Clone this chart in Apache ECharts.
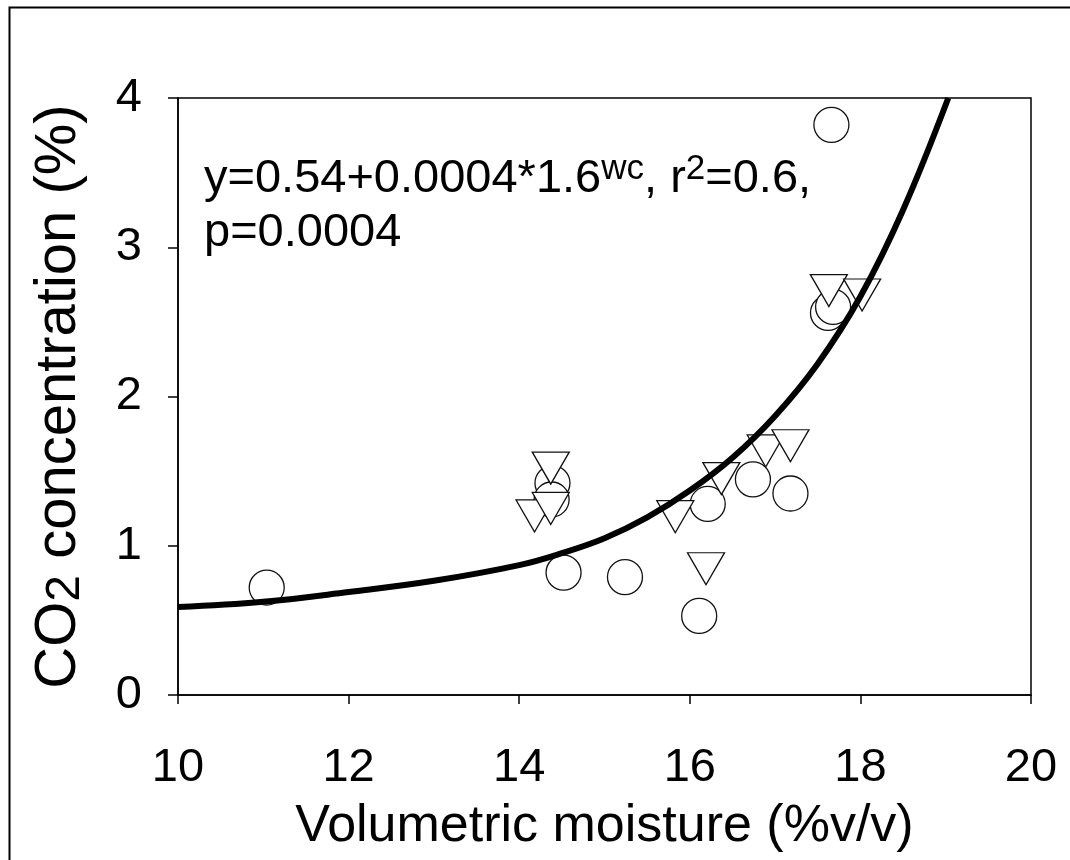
<!DOCTYPE html>
<html>
<head>
<meta charset="utf-8">
<script src="https://cdn.jsdelivr.net/npm/echarts@6/dist/echarts.min.js"></script>
<style>html,body{margin:0;padding:0;background:#fff}#c{width:1070px;height:860px}</style>
</head>
<body>
<div id="c"></div>
<script>
// Circles (open circle series)
var circleX = [11.04, 14.39, 14.38, 14.52, 15.24, 16.11, 16.21, 16.74, 17.18, 17.62, 17.68, 17.66];
var circleY = [0.72, 1.42, 1.31, 0.82, 0.79, 0.53, 1.28, 1.445, 1.35, 2.56, 2.60, 3.82];
// Down-pointing triangles series
var triX = [14.18, 14.37, 14.37, 15.83, 16.19, 16.37, 16.89, 17.18, 17.63, 18.02];
var triY = [1.20, 1.25, 1.52, 1.195, 0.846, 1.45, 1.635, 1.67, 2.71, 2.68];
// Fitted curve
var curveX = [10, 11, 12, 13, 14, 14.5, 15, 15.5, 16, 16.5, 17, 17.5, 18, 18.5, 19.03];
var curveY = [0.59, 0.625, 0.69, 0.765, 0.87, 0.95, 1.05, 1.19, 1.37, 1.59, 1.87, 2.22, 2.67, 3.25, 4.0];
// Axis ticks
var xTicks = [10, 12, 14, 16, 18, 20];
var yTicks = [0, 1, 2, 3, 4];

function zip(a, b) { return a.map(function (v, i) { return [v, b[i]]; }); }

var FONT = "'Liberation Sans', Arial, sans-serif";
var chart = echarts.init(document.getElementById('c'), null, { renderer: 'canvas' });
chart.setOption({
  backgroundColor: '#fff',
  animation: false,
  grid: { left: 177, top: 98, right: 39, bottom: 165, show: true, borderColor: '#000', borderWidth: 1.5, backgroundColor: 'transparent' },
  xAxis: {
    type: 'value', min: xTicks[0], max: xTicks[xTicks.length - 1], interval: 2,
    name: 'Volumetric moisture (%v/v)', nameLocation: 'middle', nameGap: 106,
    nameTextStyle: { fontFamily: FONT, fontSize: 52, color: '#000' },
    axisLine: { show: true, lineStyle: { color: '#000', width: 1.5 } },
    axisTick: { show: true, inside: false, length: 9, lineStyle: { color: '#000', width: 1.5 } },
    axisLabel: { fontFamily: FONT, fontSize: 47, color: '#000', margin: 50 },
    splitLine: { show: false }
  },
  yAxis: {
    type: 'value', min: yTicks[0], max: yTicks[yTicks.length - 1], interval: 1,
    name: '{a|CO}{b|2}{a| concentration (%)}', nameLocation: 'middle', nameGap: 88,
    nameTextStyle: {
      fontFamily: FONT, fontSize: 58, color: '#000',
      rich: {
        a: { fontFamily: FONT, fontSize: 58, lineHeight: 60, verticalAlign: 'top', color: '#000' },
        b: { fontFamily: FONT, fontSize: 48, lineHeight: 48, padding: [34, 0, 0, 0], verticalAlign: 'bottom', color: '#000' }
      }
    },
    axisLine: { show: true, lineStyle: { color: '#000', width: 1.5 } },
    axisTick: { show: true, inside: false, length: 10, lineStyle: { color: '#000', width: 1.5 } },
    axisLabel: { fontFamily: FONT, fontSize: 47, color: '#000', margin: 36 },
    splitLine: { show: false }
  },
  graphic: [
    { type: 'rect', left: 7, top: 5, shape: { x: 0, y: 0, width: 1200, height: 1000 }, style: { fill: 'none', stroke: '#000', lineWidth: 2 }, silent: true, z: -10 },
    {
      type: 'text', x: 204, y: 152, z: 100,
      style: {
        text: '{a|y=0.54+0.0004*1.6}{b|wc}{a|, r}{b|2}{a|=0.6,}\n{a|p=0.0004}',
        fill: '#000',
        rich: {
          a: { fontFamily: FONT, fontSize: 47, lineHeight: 54, fill: '#000' },
          b: { fontFamily: FONT, fontSize: 35, lineHeight: 36, verticalAlign: 'top', fill: '#000' }
        }
      }
    }
  ],
  series: [
    {
      type: 'scatter', name: 'circles', data: zip(circleX, circleY),
      symbol: 'circle', symbolSize: 35, z: 2,
      itemStyle: { color: '#fff', borderColor: '#111', borderWidth: 1.3, opacity: 1 }
    },
    {
      type: 'scatter', name: 'triangles', data: zip(triX, triY),
      symbol: 'triangle', symbolSize: [37, 32], symbolRotate: 180, z: 3,
      itemStyle: { color: '#fff', borderColor: '#111', borderWidth: 1.3, opacity: 1 }
    },
    {
      type: 'line', name: 'fit', data: zip(curveX, curveY),
      smooth: 0.4, showSymbol: false, symbol: 'none', z: 4,
      lineStyle: { color: '#000', width: 6 }
    }
  ]
});
</script>
</body>
</html>
